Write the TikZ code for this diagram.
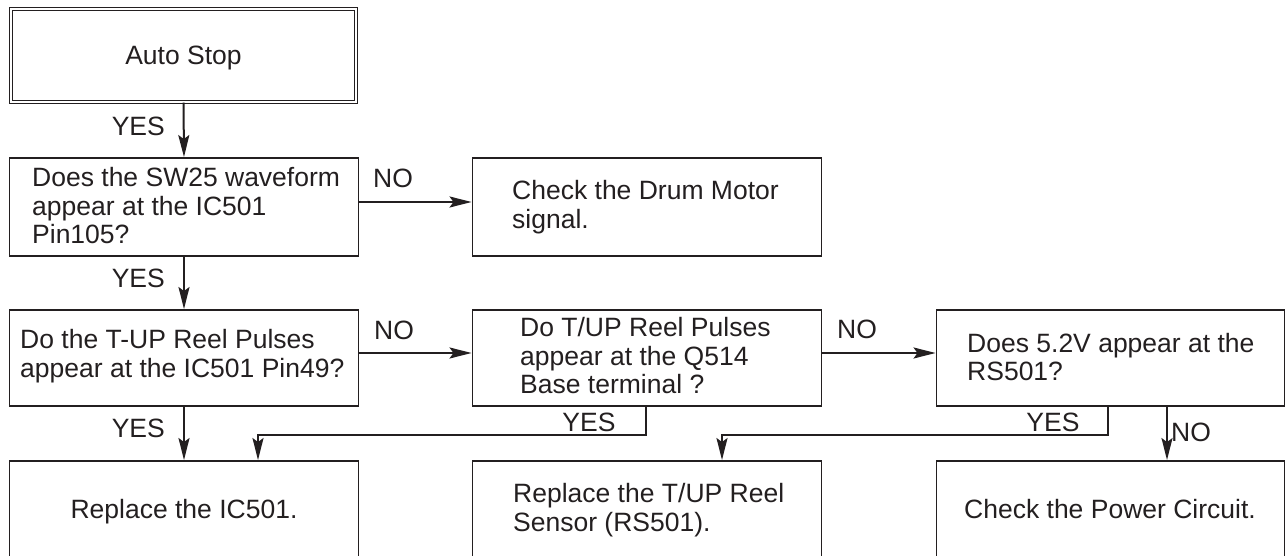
\documentclass[tikz,border=0pt]{standalone}
\usepackage{fontspec}
\setmainfont{Liberation Sans}
\usetikzlibrary{arrows.meta}
\definecolor{ink}{HTML}{231F20}
\begin{document}
\begin{tikzpicture}[x=1pt,y=-1pt,
  box/.style={draw=ink, line width=1.9pt, minimum width=349pt, minimum height=97pt, inner sep=0pt},
  txt/.style={font=\fontsize{26.5}{28.5}\selectfont, align=left, inner sep=0pt, text=ink},
  lab/.style={font=\fontsize{26.5}{28.5}\selectfont, inner sep=0pt, text=ink},
  arr/.style={draw=ink, line width=2pt, -{Stealth[length=22pt,width=11pt,inset=4pt]}},
  ln/.style={draw=ink, line width=2pt}]
\useasboundingbox (0,0) rectangle (1286,556);
% start box (double frame)
\node[draw=ink, line width=1.4pt, double, double distance=1.2pt, minimum width=345pt, minimum height=93pt, inner sep=0pt,
      text height=19pt, text depth=0pt,
      font=\fontsize{26.5}{28.5}\selectfont, text=ink] (start) at (183.5,55.5) {Auto Stop};
% boxes
\node[box, minimum height=98pt] (b2) at (184,207) {};
\node[box, minimum height=98pt] (drum) at (647,207) {};
\node[box, minimum height=96pt] (b3) at (184,358) {};
\node[box, minimum height=96pt] (q) at (647,358) {};
\node[box, minimum height=96pt, minimum width=348pt] (rs) at (1110.5,358) {};
\node[box, minimum height=97pt] (ic) at (184,509.5) {};
\node[box, minimum height=97pt] (ts) at (647,509.5) {};
\node[box, minimum height=97pt, minimum width=348pt] (pc) at (1110.5,509.5) {};
% texts
\node[txt, anchor=west] (t2) at (32,206) {Does the SW25 waveform\\appear at the IC501\\Pin105?};
\node[txt, anchor=west] (tdrum) at (512,207) {Check the Drum Motor\\signal.};
\node[txt, anchor=west] (t3) at (20,356) {Do the T-UP Reel Pulses\\appear at the IC501 Pin49?};
\node[txt, anchor=west] (tq) at (520,356) {Do T/UP Reel Pulses\\appear at the Q514\\Base terminal ?};
\node[txt, anchor=west] (trs) at (967,357) {Does 5.2V appear at the\\RS501?};
\node[txt, anchor=base] (tic) at (184,518) {Replace the IC501.};
\node[txt, anchor=west] (tts) at (513,510) {Replace the T/UP Reel\\Sensor (RS501).};
\node[txt, anchor=base] (tpc) at (1110,518) {Check the Power Circuit.};
% junction points
\coordinate (j1) at (258,435);
\coordinate (j2) at (722,435);
% connectors
\draw[arr] (start.south) -- (b2.north);
\draw[arr] ([yshift=5pt]b2.east) -- ([yshift=5pt]drum.west);
\draw[arr] (b2.south) -- (b3.north);
\draw[arr] ([yshift=5pt]b3.east) -- ([yshift=5pt]q.west);
\draw[arr] ([yshift=5pt]q.east) -- ([yshift=5pt]rs.west);
\draw[arr] (b3.south) -- (ic.north);
\draw[arr] ([xshift=-1pt]q.south) |- (j1) -- (j1 |- ic.north);
\draw[arr] ([xshift=-2.5pt]rs.south) |- (j2) -- (j2 |- ts.north);
\draw[arr] ([xshift=56.5pt]rs.south) -- ([xshift=56.5pt]pc.north);
% labels
\node[lab, anchor=base east] (y1) at (165,136) {YES};
\node[lab, anchor=base east] (y2) at (165,288) {YES};
\node[lab, anchor=base east] (y3) at (165,437) {YES};
\node[lab, anchor=base] (y4) at (589,431) {YES};
\node[lab, anchor=base] (y5) at (1053,431) {YES};
\node[lab, anchor=base west] (n1) at (373,188) {NO};
\node[lab, anchor=base west] (n2) at (374,339) {NO};
\node[lab, anchor=base west] (n3) at (837,338) {NO};
\node[lab, anchor=base west] (n4) at (1171,441) {NO};
\end{tikzpicture}
\end{document}
